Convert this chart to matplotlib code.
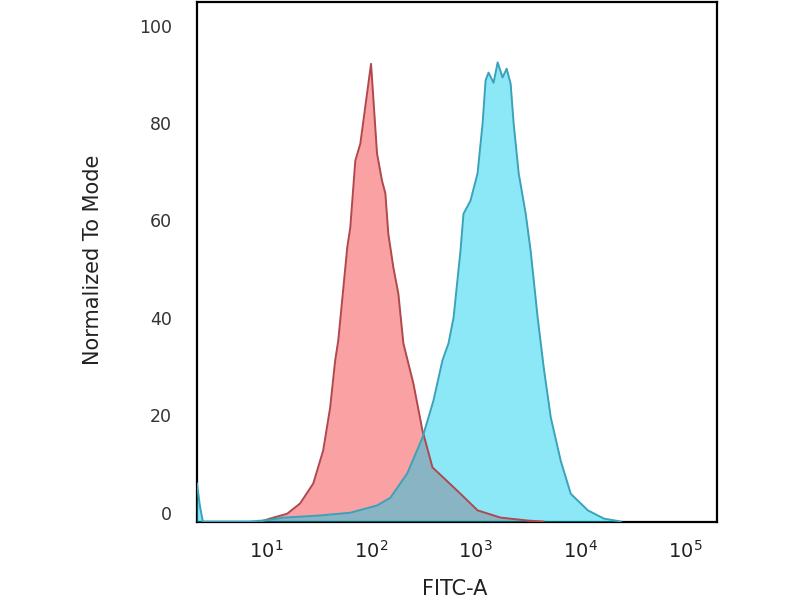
import numpy as np
import matplotlib
matplotlib.use("Agg")
import matplotlib.pyplot as plt
from matplotlib.ticker import FixedLocator, NullLocator, LogFormatterMathtext
from matplotlib.transforms import ScaledTranslation

# Isotype control (red) histogram: FITC-A intensity vs normalized count
red_x = [8.9, 10.9, 15.9, 21.1, 28.2, 35.1, 40.9, 45.7, 48.9, 59.6, 63.7, 71.1, 79.4,
         100.5, 114.6, 127.9, 137.7, 146.9, 164.1, 183.2, 204.6, 255.3, 311.2, 388.2,
         494.3, 717.8, 1044.8, 1733.8, 3147.8, 4467.0]
red_y = [0.0, 0.6, 1.6, 3.7, 7.8, 14.6, 23.4, 33.1, 37.2, 56.3, 60.4, 74.1, 77.6,
         94.0, 75.6, 70.0, 67.4, 59.1, 52.2, 46.8, 36.6, 28.3, 18.7, 11.1,
         9.0, 5.7, 2.3, 0.8, 0.2, 0.0]

# Stained sample (blue) histogram
blue_x = [2.0, 2.19, 2.33, 2.49, 7.0, 10.5, 14.6, 30.8, 63.7, 115, 154, 223, 311, 396,
          483, 552, 617, 718, 767, 895, 1045, 1167, 1247, 1330, 1486, 1626, 1811, 1982,
          2163, 2312, 2582, 3013, 3357, 3917, 4477, 5224, 6501, 8110, 11803, 16788,
          24434]
blue_y = [9.0, 7.8, 3.3, 0.0, 0.0, 0.3, 0.8, 1.2, 1.8, 3.3, 4.9, 9.9, 17.2, 24.8,
          33.1, 36.6, 41.9, 55.6, 63.2, 65.9, 71.5, 81.7, 90.6, 92.2, 90.1, 94.3, 91.2,
          93.0, 89.9, 81.7, 71.5, 63.2, 55.6, 41.9, 31.6, 21.4, 12.5, 5.7, 2.3, 0.6,
          0.0]

y_ticks = [0, 20, 40, 60, 80, 100]
x_ticks = [1e1, 1e2, 1e3, 1e4, 1e5]
x_label = "FITC-A"
y_label = "Normalized To Mode"

fig = plt.figure(figsize=(8, 6), dpi=100)
ax = fig.add_axes([0.24625, 0.1308, 0.65, 0.8667])

ax.fill_between(red_x, red_y, 0, color="#F9A1A3", lw=0, zorder=2)
ax.fill_between(blue_x, blue_y, 0, color="#00CCEE", alpha=0.45, lw=0, zorder=3)
ax.plot(red_x, red_y, color="#B0484E", lw=1.4, zorder=4)
ax.plot(blue_x, blue_y, color="#3AA2BA", lw=1.4, zorder=5)

ax.set_xscale("log")
ax.set_xlim(2.19, 202000)
ax.set_ylim(0, 106.8)

ax.xaxis.set_major_locator(FixedLocator(x_ticks))
ax.xaxis.set_major_formatter(LogFormatterMathtext())
ax.xaxis.set_minor_locator(NullLocator())
ax.set_yticks(y_ticks)

ax.tick_params(axis="both", length=0)
ax.tick_params(axis="x", pad=13, labelsize=14, labelcolor="#222222")
ax.tick_params(axis="y", pad=18, labelsize=12.5, labelcolor="#333333")

offset = ScaledTranslation(0, 9 / 100, fig.dpi_scale_trans)
for lab in ax.get_yticklabels():
    lab.set_transform(lab.get_transform() + offset)

for s in ax.spines.values():
    s.set_linewidth(1.6)
    s.set_color("black")

fig.text(93 / 800, 1 - 260 / 600, y_label, rotation=90, ha="center", va="center",
         fontsize=15, color="#222222")
fig.text(455 / 800, 1 - 579 / 600, x_label, ha="center", va="top",
         fontsize=15, color="#222222")

fig.savefig("out.png", dpi=100)
